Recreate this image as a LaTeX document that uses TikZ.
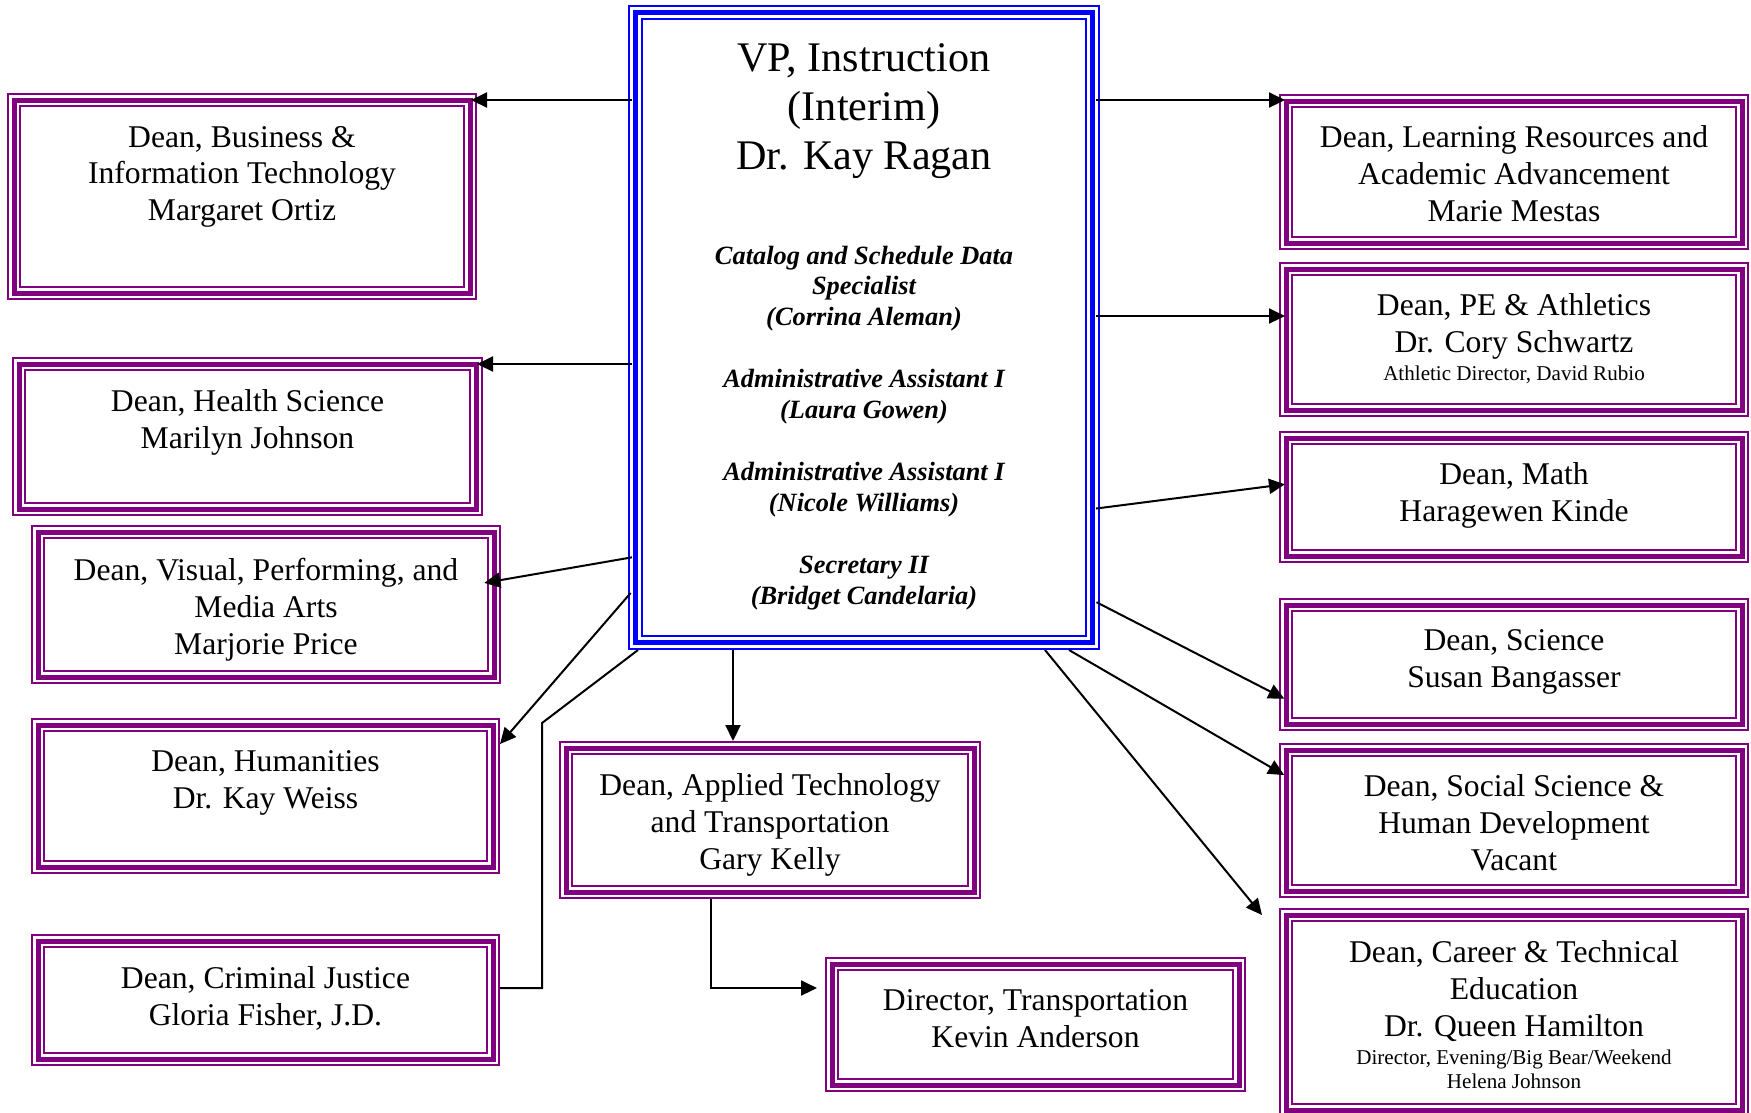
\documentclass[tikz,border=0pt]{standalone}
\usepackage{fontspec}
\setmainfont{Liberation Serif}
\usetikzlibrary{positioning,arrows.meta}
\definecolor{deanpurple}{RGB}{128,0,128}
\definecolor{vpblue}{RGB}{0,0,255}
\newcommand{\minorline}[1]{{\fontsize{6}{6.7}\selectfont #1}}

\begin{document}
\begin{tikzpicture}[x=0.1mm,y=-0.1mm]%
\tikzstyle{deanbox} = [draw=deanpurple, line width=1.4mm, rectangle, outer sep=0.7mm,
    postaction={draw=white, line width=1mm},
    postaction={draw=deanpurple, line width=0.5mm}]
\tikzstyle{vpbox} = [draw=vpblue, line width=1.5mm, rectangle, outer sep=0.75mm,
    postaction={draw=white, line width=1.05mm},
    postaction={draw=vpblue, line width=0.55mm}]
\tikzstyle{deantext} = [align=center, inner sep=0pt, outer sep=0pt,
    font=\fontsize{9}{10.5}\selectfont]
\tikzstyle{link} = [line width=0.2mm, shorten <=-0.4mm, shorten >=-0.6mm,
    -{Triangle[length=1.6mm, width=1.5mm]}]

\useasboundingbox (0,0) rectangle (1751,1112);

\node [vpbox, minimum width=45.7mm, minimum height=63mm] (vp) at (864,327.5) {};
\node [align=center, inner sep=0pt, font=\fontsize{12}{13.9}\selectfont,
    below=3.8mm of vp.north] (vp-t) {VP, Instruction\\ (Interim)\\ Dr. Kay Ragan};
\node [align=center, inner sep=0pt, font=\fontsize{7.5}{8.8}\selectfont\bfseries\itshape,
    below=24mm of vp.north] (staff) {%
    Catalog and Schedule Data\\ Specialist\\ (Corrina Aleman)\\[8.8pt]
    Administrative Assistant I\\ (Laura Gowen)\\[8.8pt]
    Administrative Assistant I\\ (Nicole Williams)\\[8.8pt]
    Secretary II\\ (Bridget Candelaria)};

\node [deanbox, minimum width=45.6mm, minimum height=19.3mm] (bus) at (242,196.5) {};
\node [deantext, below=3.3mm of bus.north] (bus-t)
    {Dean, Business \&\\ Information Technology\\ Margaret Ortiz};
\node [deanbox, minimum width=45.7mm, minimum height=14.5mm] (hs) at (247.5,436.5) {};
\node [deantext, below=3.3mm of hs.north] (hs-t) {Dean, Health Science\\ Marilyn Johnson};
\node [deanbox, minimum width=45.6mm, minimum height=14.5mm] (vpma) at (266,604.5) {};
\node [deantext, below=3.3mm of vpma.north] (vpma-t)
    {Dean, Visual, Performing, and\\ Media Arts\\ Marjorie Price};
\node [deanbox, minimum width=45.5mm, minimum height=14.2mm] (hum) at (265.5,796) {};
\node [deantext, below=3.3mm of hum.north] (hum-t) {Dean, Humanities\\ Dr. Kay Weiss};
\node [deanbox, minimum width=45.5mm, minimum height=11.8mm] (cj) at (265.5,1000) {};
\node [deantext, below=3.3mm of cj.north] (cj-t) {Dean, Criminal Justice\\ Gloria Fisher, J.D.};

\node [deanbox, minimum width=40.8mm, minimum height=14.4mm] (atr) at (770,820) {};
\node [deantext, below=3.3mm of atr.north] (atr-t)
    {Dean, Applied Technology\\ and Transportation\\ Gary Kelly};
\node [deanbox, minimum width=40.7mm, minimum height=12.1mm] (dtr) at (1035.5,1024.5) {};
\node [deantext, below=3.3mm of dtr.north] (dtr-t) {Director, Transportation\\ Kevin Anderson};

\node [deanbox, minimum width=45.6mm, minimum height=14.2mm] (lr) at (1514,172) {};
\node [deantext, below=3.2mm of lr.north] (lr-t)
    {Dean, Learning Resources and\\ Academic Advancement\\ Marie Mestas};
\node [deanbox, minimum width=45.6mm, minimum height=14.1mm] (pe) at (1514,339.5) {};
\node [deantext, below=3.2mm of pe.north] (pe-t)
    {Dean, PE \& Athletics\\ Dr. Cory Schwartz\\[-2.6pt] \minorline{Athletic Director, David Rubio}};
\node [deanbox, minimum width=45.6mm, minimum height=11.8mm] (math) at (1514,497) {};
\node [deantext, below=3.2mm of math.north] (math-t) {Dean, Math\\ Haragewen Kinde};
\node [deanbox, minimum width=45.6mm, minimum height=11.9mm] (sci) at (1514,664.5) {};
\node [deantext, below=3.2mm of sci.north] (sci-t) {Dean, Science\\ Susan Bangasser};
\node [deanbox, minimum width=45.6mm, minimum height=14.1mm] (ssh) at (1514,820.5) {};
\node [deantext, below=3.2mm of ssh.north] (ssh-t)
    {Dean, Social Science \&\\ Human Development\\ Vacant};
\node [deanbox, minimum width=45.6mm, minimum height=19.5mm] (cte) at (1514,1012.5) {};
\node [deantext, below=3.3mm of cte.north] (cte-t)
    {Dean, Career \& Technical\\ Education\\ Dr. Queen Hamilton\\[-2.6pt]
    \minorline{Director, Evening/Big Bear/Weekend}\\[-3.8pt] \minorline{Helena Johnson}};

\draw [link] (vp.west |- 0,100) -- (bus.east |- 0,100);
\draw [link] (vp.west |- 0,364) -- (hs.east |- 0,364);
\draw [link, shorten >=-1.7mm] (vp.west |- 0,558) -- (vpma.east |- 0,580);
\draw [link, shorten >=0mm] (vp.west |- 0,596) -- (hum.east |- 0,744);
\draw [line width=0.2mm] ([xshift=1mm]vp.south west) -- (542,723) -- (542,988) -- (cj.east |- 0,988);
\draw [link, shorten <=0mm, shorten >=0mm] (vp.south -| 733,0) -- (atr.north -| 733,0);
\draw [link, shorten <=0mm, shorten >=0.8mm] (atr.south -| 711,0) |- (dtr.west |- 0,988);

\draw [link] (vp.east |- 0,100) -- (lr.west |- 0,100);
\draw [link] (vp.east |- 0,316) -- (pe.west |- 0,316);
\draw [link] (vp.east |- 0,508) -- (math.west |- 0,485);
\draw [link] (vp.east |- 0,604) -- (sci.west |- 0,696);
\draw [link, shorten <=0mm] (vp.south -| 1069,0) -- (ssh.west |- 0,772);
\draw [link, shorten <=0mm, shorten >=0mm] (vp.south -| 1045,0) -- ([xshift=-1.7mm, yshift=-0.7mm]cte.north west);
\end{tikzpicture}
\end{document}
